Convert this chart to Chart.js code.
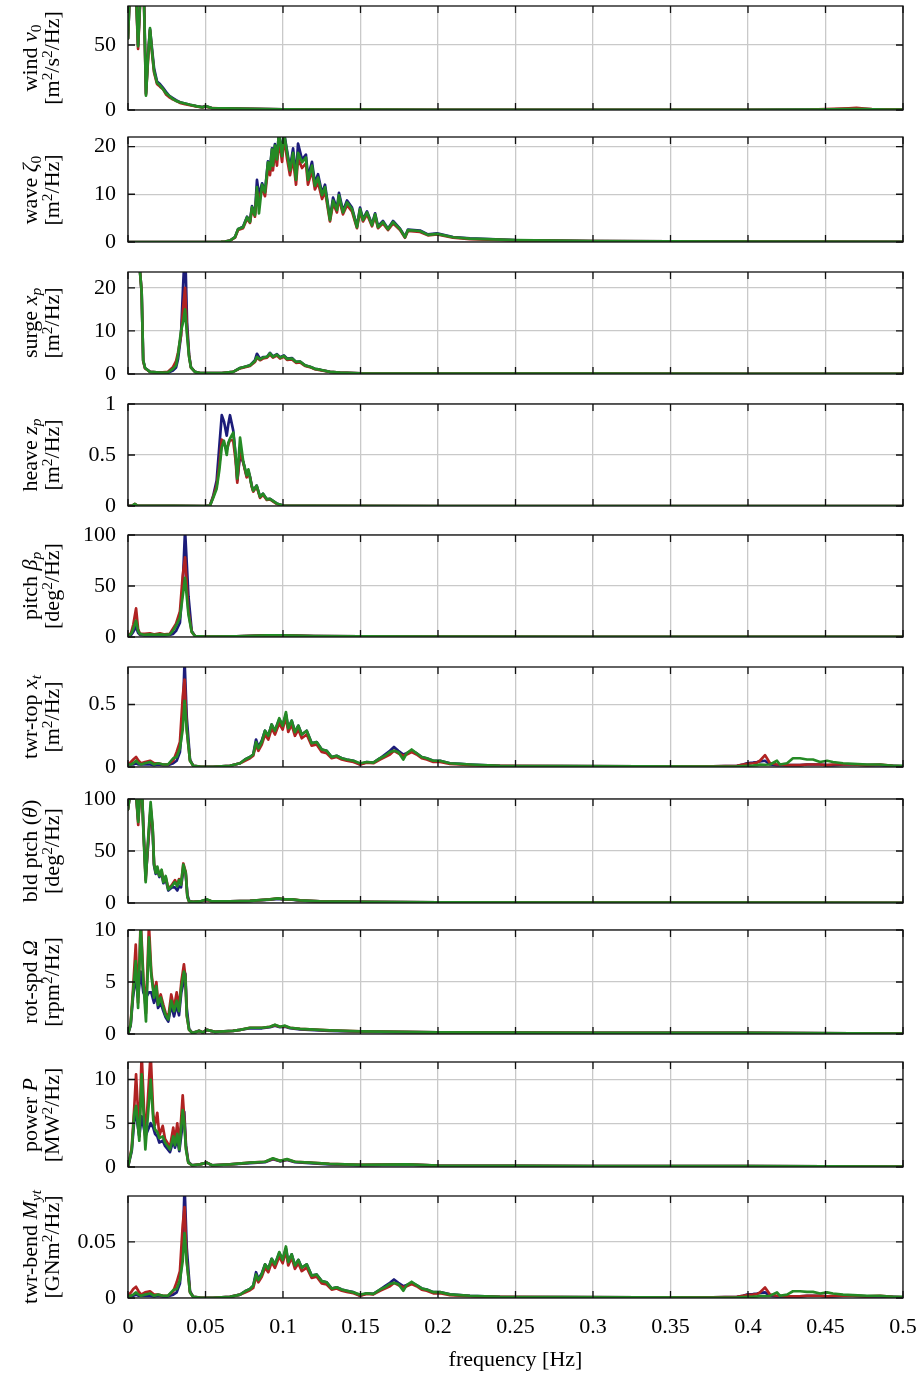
<!DOCTYPE html>
<html>
<head>
<meta charset="utf-8">
<script src="https://cdn.jsdelivr.net/npm/chart.js@4.4.0/dist/chart.umd.min.js"></script>
<style>
  body { margin: 0; background: #fff; width: 923px; height: 1374px; position: relative; overflow: hidden; }
  canvas { position: absolute; left: 0; }
  .ylab { position: absolute; width: 260px; height: 44px; font: 22px/22px 'Liberation Serif', serif; color: #000;
          text-align: center; white-space: nowrap; transform: rotate(-90deg); }
  .ylab div { height: 22px; }
  sup, sub { font-size: 70%; line-height: 0; position: relative; vertical-align: baseline; }
  sup { top: -0.45em; }
  sub { top: 0.25em; }
</style>
</head>
<body>
<script>
// shared x axis
const xTicks = [0, 0.05, 0.1, 0.15, 0.2, 0.25, 0.3, 0.35, 0.4, 0.45, 0.5];

// wind v0
const windF = [0, 0.0013, 0.0032, 0.0052, 0.0065, 0.0084, 0.0103, 0.0116, 0.0129, 0.0142, 0.0155, 0.0168, 0.0187, 0.0206, 0.0226, 0.0245, 0.0265, 0.0284, 0.031, 0.0335, 0.0368, 0.04, 0.044, 0.048, 0.05, 0.054, 0.0626, 0.0787, 0.1, 0.125, 0.15, 0.2, 0.25, 0.3, 0.35, 0.4, 0.44, 0.455, 0.465, 0.47, 0.475, 0.48, 0.49, 0.5];
const windBlue = [55, 95, 110, 92, 50, 100, 88, 13, 42, 62, 47, 32, 22, 20, 17, 14, 11, 9.5, 7.5, 6, 5, 4, 3, 2.2, 3, 1.5, 1.2, 0.8, 0.5, 0.4, 0.3, 0.2, 0.2, 0.15, 0.15, 0.2, 0.3, 0.5, 0.7, 0.8, 0.6, 0.5, 0.4, 0.3];
const windRed = [55, 95, 110, 88, 47, 98, 84, 12, 38, 61, 44, 29, 20, 18, 16, 12, 10, 8.5, 7, 5.5, 4.5, 3.8, 2.8, 2, 2.8, 1.4, 1.1, 0.8, 0.5, 0.4, 0.3, 0.2, 0.2, 0.15, 0.15, 0.2, 0.4, 0.9, 1.3, 1.6, 1.1, 0.7, 0.5, 0.3];
const windGreen = [55, 95, 110, 90, 49, 100, 85, 11, 40, 63, 45, 30, 21, 19, 16, 13, 11, 9, 7, 6, 5, 4, 3, 2, 3, 1.5, 1.2, 0.8, 0.5, 0.4, 0.3, 0.2, 0.2, 0.15, 0.15, 0.15, 0.3, 0.5, 0.6, 0.7, 0.6, 0.5, 0.4, 0.3];

// wave zeta0
const waveF = [0, 0.03, 0.06, 0.0626, 0.0658, 0.069, 0.071, 0.0742, 0.0768, 0.0787,
  0.08, 0.0819, 0.0832, 0.0845, 0.0865, 0.0884, 0.0903, 0.0916, 0.0929, 0.0935,
  0.0948, 0.0961, 0.0974, 0.0994, 0.1006, 0.1026, 0.1045, 0.1065, 0.1084, 0.1097,
  0.1123, 0.1148, 0.1161, 0.1187, 0.1206, 0.1226, 0.1252, 0.1271, 0.1303, 0.1323,
  0.1348, 0.1361, 0.1387, 0.1413, 0.1445, 0.1477, 0.1497, 0.1516, 0.1542, 0.1574,
  0.1594, 0.1613, 0.1645, 0.1677, 0.171, 0.1755, 0.1787, 0.1806, 0.1884, 0.1935,
  0.1994, 0.2097, 0.2206, 0.25, 0.3, 0.4, 0.5];
const waveBlue = [0, 0, 0.05, 0.1, 0.3, 1.0, 2.7, 3.2, 5.3, 4.4,
  7.5, 5.8, 13.0, 9.8, 12.3, 10.6, 16.9, 15.5, 19.6, 16.3,
  20.5, 17.6, 23, 18.4, 23, 19.2, 15.4, 19.6, 13.6, 20.6,
  17.2, 18.3, 13.6, 16.8, 12.3, 14.2, 10.2, 12.0, 4.9, 9.3,
  7.0, 10.3, 6.5, 8.7, 7.2, 3.3, 7.2, 4.8, 6.4, 3.7,
  6.0, 3.3, 4.4, 2.8, 4.4, 2.8, 1.1, 2.6, 2.4, 1.6,
  1.8, 1.05, 0.75, 0.4, 0.2, 0.1, 0.05];
const waveRed = [0, 0, 0.05, 0.1, 0.3, 0.9, 2.5, 2.9, 4.9, 4.0,
  6.9, 5.3, 10.5, 9.0, 11.2, 9.6, 15.5, 14.0, 18.0, 15.0,
  19.0, 16.0, 21.5, 16.8, 22, 17.5, 14.0, 17.5, 12.0, 17.5,
  15.5, 16.5, 12.0, 15.0, 11.0, 12.5, 9.0, 10.7, 4.3, 8.1,
  6.2, 9.1, 5.8, 7.7, 6.4, 2.9, 6.4, 4.3, 5.8, 3.3,
  5.4, 2.9, 3.9, 2.5, 3.9, 2.5, 0.9, 2.3, 2.1, 1.4,
  1.6, 0.9, 0.6, 0.35, 0.2, 0.1, 0.05];
const waveGreen = [0, 0, 0.05, 0.1, 0.3, 1.0, 2.7, 3.1, 5.2, 4.2,
  7.3, 5.6, 11.5, 6.0, 12, 10.4, 16.7, 15.2, 19.4, 16,
  20.2, 17.3, 23, 18, 23, 18.7, 15, 18.7, 13, 18.7,
  16.7, 17.7, 13, 16, 11.8, 13.5, 9.8, 11.5, 4.6, 8.7,
  6.7, 9.8, 6.2, 8.3, 6.9, 3.1, 6.9, 4.6, 6.2, 3.5,
  5.8, 3.1, 4.2, 2.7, 4.2, 2.7, 1.0, 2.5, 2.3, 1.5,
  1.7, 1.0, 0.7, 0.4, 0.2, 0.1, 0.05];

// surge xp
const surgeF = [0, 0.003, 0.0055, 0.0077, 0.0088, 0.0098, 0.011, 0.0142, 0.0206, 0.0258,
  0.029, 0.031, 0.0323, 0.0342, 0.0355, 0.0368, 0.0381, 0.0394, 0.0406, 0.0432,
  0.0465, 0.0606, 0.0678, 0.0723, 0.0755, 0.0787, 0.0819, 0.0832, 0.0852, 0.0871,
  0.0897, 0.0916, 0.0935, 0.0961, 0.0981, 0.1006, 0.1026, 0.1058, 0.1084, 0.111,
  0.1142, 0.1174, 0.1206, 0.1239, 0.1303, 0.1368, 0.15, 0.2, 0.3, 0.4, 0.5];
const surgeBlue = [30, 45, 40, 24, 19, 3.2, 1.4, 0.5, 0.3, 0.3,
  0.8, 1.5, 3.5, 9, 20, 30, 12, 4.5, 1.6, 0.5,
  0.2, 0.2, 0.5, 1.4, 1.7, 2.0, 3.2, 4.7, 3.5, 3.9,
  4.0, 4.9, 4.1, 4.6, 3.9, 4.3, 3.6, 3.7, 2.8, 2.9,
  2.0, 1.7, 1.2, 1.0, 0.5, 0.3, 0.15, 0.1, 0.08, 0.06, 0.05];
const surgeRed = [30, 45, 40, 24, 19, 3.0, 1.3, 0.5, 0.3, 0.5,
  1.6, 3.0, 5, 9, 15, 20, 10, 4.2, 1.5, 0.5,
  0.2, 0.2, 0.5, 1.3, 1.6, 1.9, 2.8, 3.8, 3.2, 3.6,
  3.8, 4.5, 3.8, 4.3, 3.6, 4.0, 3.3, 3.4, 2.6, 2.7,
  1.9, 1.6, 1.1, 0.9, 0.5, 0.3, 0.15, 0.1, 0.08, 0.06, 0.05];
const surgeGreen = [30, 45, 40, 24, 19, 3.2, 1.4, 0.5, 0.3, 0.4,
  1.2, 2.0, 4.5, 10, 12, 15, 9, 4, 1.5, 0.5,
  0.2, 0.2, 0.5, 1.4, 1.7, 2.0, 3.0, 4.0, 3.4, 3.8,
  4.0, 4.8, 4.0, 4.5, 3.8, 4.2, 3.5, 3.6, 2.8, 2.9,
  2.0, 1.7, 1.2, 1.0, 0.5, 0.3, 0.15, 0.1, 0.08, 0.06, 0.05];

// heave zp
const heaveF = [0, 0.003, 0.0045, 0.006, 0.03, 0.0497, 0.0529, 0.055, 0.0572, 0.0589,
  0.0605, 0.0619, 0.0637, 0.0647, 0.0658, 0.0679, 0.0694, 0.0705, 0.0723, 0.0744,
  0.0766, 0.0777, 0.0787, 0.0798, 0.0808, 0.083, 0.0852, 0.0871, 0.0895, 0.0916,
  0.0959, 0.1, 0.12, 0.2, 0.5];
const heaveBlue = [0, 0.005, 0.015, 0.003, 0.002, 0, 0.005, 0.1, 0.25, 0.58,
  0.89, 0.83, 0.69, 0.8, 0.89, 0.74, 0.5, 0.25, 0.5, 0.43,
  0.29, 0.34, 0.29, 0.2, 0.15, 0.2, 0.09, 0.12, 0.065, 0.07,
  0.025, 0.005, 0.002, 0, 0];
const heaveRed = [0, 0.005, 0.02, 0.003, 0.002, 0, 0.005, 0.09, 0.2, 0.4,
  0.65, 0.62, 0.55, 0.6, 0.65, 0.64, 0.45, 0.23, 0.55, 0.42,
  0.28, 0.33, 0.28, 0.19, 0.14, 0.19, 0.08, 0.11, 0.06, 0.065,
  0.02, 0.005, 0.002, 0, 0];
const heaveGreen = [0, 0.005, 0.02, 0.003, 0.002, 0, 0.005, 0.08, 0.17, 0.35,
  0.58, 0.64, 0.5, 0.62, 0.66, 0.72, 0.5, 0.27, 0.67, 0.43,
  0.3, 0.36, 0.28, 0.2, 0.15, 0.2, 0.09, 0.12, 0.065, 0.07,
  0.025, 0.005, 0.002, 0, 0];

// pitch beta_p
const pitchF = [0, 0.002, 0.0034, 0.0052, 0.0065, 0.0077, 0.0108, 0.0142, 0.0172, 0.0206,
  0.0237, 0.0269, 0.029, 0.031, 0.0335, 0.0353, 0.0368, 0.039, 0.0411, 0.0432,
  0.05, 0.07, 0.09, 0.1, 0.12, 0.15, 0.2, 0.3, 0.4, 0.5];
const pitchBlue = [1, 2, 5, 10, 4, 2, 1.5, 1.5, 1.5, 1.5, 1.5, 2, 3, 6, 14, 50, 105, 40, 6, 1, 0.5, 0.7, 1.5, 1.5, 1, 0.6, 0.4, 0.2, 0.2, 0.1];
const pitchRed = [1, 4, 12, 28, 8, 3, 3, 3.5, 2.5, 3.5, 2.5, 3, 8, 13, 25, 60, 78, 25, 5, 1, 0.5, 0.7, 1.5, 1.5, 1, 0.6, 0.4, 0.2, 0.2, 0.1];
const pitchGreen = [1, 3, 8, 16, 6, 3, 2, 2.5, 2, 2.5, 2, 2.5, 6, 11, 19, 40, 58, 22, 5, 1, 0.5, 0.7, 1.5, 1.5, 1, 0.6, 0.4, 0.2, 0.2, 0.1];

// tower (shared frequencies for twr-top and twr-bend)
const towerF = [0, 0.0019, 0.0034, 0.0052, 0.0068, 0.0084, 0.011, 0.0142, 0.0168, 0.0194,
  0.0226, 0.0258, 0.0292, 0.0314, 0.0335, 0.0353, 0.0365, 0.0379, 0.04, 0.0421,
  0.0465, 0.0548, 0.0658, 0.0723, 0.0755, 0.0787, 0.0808, 0.0826, 0.0841, 0.0863,
  0.0884, 0.0905, 0.0927, 0.0948, 0.0976, 0.0998, 0.1019, 0.1034, 0.1056, 0.1077,
  0.1099, 0.1121, 0.1153, 0.1185, 0.1217, 0.125, 0.1282, 0.1314, 0.1346, 0.1379,
  0.1411, 0.1454, 0.1497, 0.154, 0.1583, 0.1626, 0.1658, 0.169, 0.1716, 0.1744,
  0.1776, 0.1798, 0.183, 0.1862, 0.1895, 0.1927, 0.197, 0.2013, 0.2077, 0.2142,
  0.2206, 0.24, 0.28, 0.33, 0.3774, 0.3929, 0.3968, 0.3994, 0.4032, 0.4058,
  0.4077, 0.411, 0.4142, 0.4187, 0.4206, 0.4252, 0.429, 0.4335, 0.4381, 0.4419,
  0.4465, 0.451, 0.4548, 0.4613, 0.4677, 0.4768, 0.4852, 0.4935, 0.5];

// twr-top xt
const topBlue = [0.02, 0.02, 0.02, 0.03, 0.02, 0.02, 0.02, 0.02, 0.015, 0.02,
  0.015, 0.015, 0.03, 0.05, 0.12, 0.4, 0.85, 0.4, 0.06, 0.01,
  0.003, 0.002, 0.01, 0.03, 0.06, 0.08, 0.1, 0.22, 0.16, 0.21,
  0.29, 0.25, 0.34, 0.29, 0.38, 0.33, 0.42, 0.31, 0.37, 0.28,
  0.33, 0.26, 0.29, 0.19, 0.2, 0.14, 0.13, 0.08, 0.09, 0.07,
  0.06, 0.05, 0.02, 0.04, 0.035, 0.07, 0.1, 0.13, 0.16, 0.13,
  0.1, 0.11, 0.13, 0.11, 0.08, 0.07, 0.05, 0.05, 0.03, 0.025,
  0.02, 0.01, 0.008, 0.005, 0.005, 0.01, 0.02, 0.03, 0.035, 0.04,
  0.045, 0.05, 0.02, 0.015, 0.015, 0.015, 0.015, 0.015, 0.02, 0.02,
  0.02, 0.015, 0.015, 0.02, 0.02, 0.015, 0.015, 0.01, 0.005];
const topRed = [0.02, 0.04, 0.06, 0.08, 0.05, 0.03, 0.04, 0.05, 0.03, 0.03,
  0.02, 0.02, 0.05, 0.12, 0.2, 0.56, 0.7, 0.3, 0.05, 0.01,
  0.003, 0.002, 0.01, 0.03, 0.05, 0.07, 0.09, 0.18, 0.13, 0.18,
  0.26, 0.22, 0.31, 0.26, 0.35, 0.3, 0.4, 0.28, 0.34, 0.25,
  0.3, 0.23, 0.26, 0.17, 0.18, 0.12, 0.11, 0.07, 0.08, 0.06,
  0.05, 0.04, 0.02, 0.035, 0.03, 0.06, 0.08, 0.1, 0.13, 0.11,
  0.09, 0.1, 0.12, 0.1, 0.07, 0.06, 0.04, 0.04, 0.025, 0.02,
  0.015, 0.01, 0.008, 0.005, 0.005, 0.01, 0.02, 0.025, 0.03, 0.035,
  0.05, 0.095, 0.03, 0.02, 0.02, 0.015, 0.015, 0.015, 0.02, 0.02,
  0.02, 0.015, 0.02, 0.02, 0.02, 0.015, 0.02, 0.01, 0.005];
const topGreen = [0.02, 0.02, 0.03, 0.05, 0.03, 0.02, 0.03, 0.04, 0.02, 0.03,
  0.02, 0.02, 0.07, 0.08, 0.15, 0.3, 0.53, 0.3, 0.05, 0.01,
  0.003, 0.002, 0.01, 0.03, 0.06, 0.08, 0.1, 0.2, 0.15, 0.2,
  0.29, 0.25, 0.34, 0.29, 0.39, 0.33, 0.44, 0.31, 0.37, 0.28,
  0.33, 0.26, 0.29, 0.19, 0.2, 0.14, 0.13, 0.08, 0.09, 0.07,
  0.06, 0.05, 0.03, 0.04, 0.035, 0.07, 0.09, 0.12, 0.13, 0.12,
  0.06, 0.11, 0.14, 0.11, 0.08, 0.07, 0.05, 0.05, 0.03, 0.025,
  0.02, 0.01, 0.008, 0.005, 0.003, 0.005, 0.008, 0.01, 0.012, 0.015,
  0.02, 0.018, 0.02, 0.05, 0.02, 0.03, 0.07, 0.07, 0.06, 0.06,
  0.04, 0.05, 0.04, 0.03, 0.025, 0.02, 0.02, 0.01, 0.01];

// bld ptch theta
const bldF = [0, 0.0013, 0.0032, 0.0052, 0.0066, 0.0077, 0.009, 0.0099, 0.0114, 0.0127,
  0.0146, 0.0159, 0.0168, 0.0179, 0.0189, 0.0202, 0.0217, 0.0228, 0.0243, 0.026,
  0.0282, 0.0303, 0.0318, 0.0329, 0.0342, 0.0357, 0.0372, 0.0383, 0.0394, 0.0421,
  0.0465, 0.0508, 0.0542, 0.0658, 0.0787, 0.0916, 0.0968, 0.1013, 0.1058, 0.111,
  0.1239, 0.15, 0.2, 0.3, 0.4, 0.5];
const bldBlue = [90, 105, 115, 105, 80, 105, 110, 74, 25, 50,
  90, 70, 36, 28, 32, 25, 29, 19, 23, 12,
  15, 15, 12, 16, 15, 32, 30, 8, 2, 1,
  1.5, 3, 1.5, 1.5, 2, 3.2, 4, 3.2, 3.2, 2.3,
  1.5, 1, 0.6, 0.4, 0.3, 0.2];
const bldRed = [90, 105, 115, 105, 75, 105, 110, 72, 22, 52,
  92, 72, 38, 30, 34, 27, 31, 21, 25, 14,
  17, 22, 17, 23, 18, 38, 30, 6, 1.5, 1,
  1.5, 3, 1.5, 1.5, 2, 3.5, 4.5, 3.5, 3.5, 2.5,
  1.5, 1, 0.6, 0.4, 0.3, 0.2];
const bldGreen = [90, 105, 115, 105, 78, 105, 110, 70, 20, 55,
  97, 73, 37, 29, 35, 26, 32, 20, 26, 13,
  16, 20, 16, 22, 17.5, 37, 29, 6, 1.5, 1,
  1.5, 3.5, 1.5, 1.5, 2, 3.5, 4.5, 3.5, 3.5, 2.5,
  1.5, 1, 0.6, 0.4, 0.3, 0.2];

// rot-spd Omega
const rotF = [0, 0.0017, 0.0032, 0.005, 0.0065, 0.0082, 0.0099, 0.0116, 0.0135, 0.015,
  0.0168, 0.0183, 0.0194, 0.0211, 0.0228, 0.0243, 0.026, 0.0279, 0.0297, 0.0314,
  0.0329, 0.0344, 0.0361, 0.037, 0.0379, 0.0394, 0.0415, 0.0439, 0.0458, 0.0484,
  0.0508, 0.0561, 0.0677, 0.0723, 0.0787, 0.0865, 0.0916, 0.0948, 0.0981, 0.1013,
  0.1045, 0.111, 0.13, 0.15, 0.2, 0.3, 0.4, 0.5];
const rotBlue = [0, 0.8, 3.5, 5.5, 3.5, 6, 4, 3.5, 4, 4,
  3, 3.8, 2.5, 3, 2.2, 1.6, 1.2, 2.8, 1.7, 2.8,
  1.8, 4, 5.2, 5.8, 2.5, 0.5, 0.1, 0.2, 0.3, 0.15,
  0.4, 0.2, 0.3, 0.4, 0.55, 0.55, 0.65, 0.8, 0.65, 0.7,
  0.55, 0.45, 0.3, 0.22, 0.15, 0.1, 0.1, 0.05];
const rotRed = [0, 1.0, 4.2, 8.6, 3, 11, 5.5, 2, 10.5, 6,
  3.8, 5, 3, 3.8, 2.8, 2, 1.6, 3.8, 2.5, 4,
  2.5, 5, 6.7, 5.5, 1.8, 0.4, 0.1, 0.2, 0.3, 0.15,
  0.4, 0.2, 0.3, 0.4, 0.6, 0.6, 0.7, 0.85, 0.7, 0.75,
  0.6, 0.5, 0.35, 0.25, 0.15, 0.1, 0.1, 0.05];
const rotGreen = [0, 0.9, 3.8, 7, 2.5, 10.5, 5, 1.2, 9.3, 5.7,
  3.5, 4.6, 2.8, 3.5, 2.5, 1.8, 1.4, 3.2, 2.2, 3.2,
  2.2, 4.5, 6.0, 5.5, 1.8, 0.4, 0.1, 0.2, 0.3, 0.15,
  0.4, 0.2, 0.3, 0.4, 0.6, 0.6, 0.7, 0.9, 0.7, 0.8,
  0.6, 0.5, 0.35, 0.25, 0.15, 0.1, 0.1, 0.05];

// power P
const powF = [0, 0.0024, 0.0041, 0.0052, 0.0073, 0.0088, 0.0112, 0.0146, 0.0163, 0.0174,
  0.0189, 0.0202, 0.0224, 0.0239, 0.0271, 0.0292, 0.0303, 0.0318, 0.0331, 0.0353,
  0.0363, 0.0374, 0.0389, 0.0413, 0.0465, 0.0508, 0.0542, 0.0658, 0.0787, 0.0884,
  0.0935, 0.0981, 0.1026, 0.1077, 0.1174, 0.13, 0.15, 0.18, 0.2, 0.3, 0.4, 0.5];
const powBlue = [0, 1.8, 5.5, 6, 3.5, 5.8, 3.5, 5, 4.5, 3.8,
  3.5, 2.8, 3, 2.4, 1.7, 3, 2.2, 3.2, 1.8, 5,
  6.3, 2.5, 0.6, 0.2, 0.3, 0.5, 0.2, 0.3, 0.45, 0.55,
  0.9, 0.65, 0.8, 0.55, 0.45, 0.3, 0.22, 0.28, 0.15, 0.1, 0.1, 0.05];
const powRed = [0, 2.2, 7, 10.6, 3.5, 13, 3, 13, 6, 4.8,
  6.2, 3.6, 4.7, 3.2, 2.3, 4.5, 2.8, 5, 2.3, 8.2,
  5.5, 2.2, 0.5, 0.2, 0.3, 0.5, 0.2, 0.3, 0.5, 0.6,
  0.95, 0.7, 0.85, 0.6, 0.5, 0.35, 0.25, 0.3, 0.15, 0.1, 0.1, 0.05];
const powGreen = [0, 2, 6.2, 7, 3, 10.6, 2, 10, 5.4, 4.3,
  4, 3.3, 3.5, 2.8, 2, 3.5, 2.5, 3.8, 2, 6.5,
  5, 2, 0.5, 0.2, 0.3, 0.5, 0.2, 0.3, 0.5, 0.6,
  1.0, 0.7, 0.9, 0.6, 0.5, 0.35, 0.25, 0.3, 0.15, 0.1, 0.1, 0.05];

// twr-bend Myt
const bendBlue = [0.002, 0.002, 0.002, 0.003, 0.002, 0.002, 0.002, 0.002, 0.0015, 0.002,
  0.0015, 0.0015, 0.003, 0.005, 0.013, 0.045, 0.1, 0.045, 0.006, 0.001,
  0.0003, 0.0002, 0.001, 0.003, 0.006, 0.008, 0.011, 0.023, 0.017, 0.022,
  0.03, 0.026, 0.035, 0.03, 0.04, 0.034, 0.044, 0.032, 0.039, 0.029,
  0.034, 0.027, 0.03, 0.02, 0.021, 0.015, 0.014, 0.0085, 0.0095, 0.0075,
  0.0065, 0.0052, 0.002, 0.0042, 0.0037, 0.0075, 0.0105, 0.0135, 0.0165, 0.0135,
  0.0105, 0.0115, 0.0135, 0.0115, 0.0085, 0.0075, 0.0052, 0.0052, 0.0032, 0.0026,
  0.002, 0.001, 0.0008, 0.0005, 0.0005, 0.001, 0.002, 0.003, 0.0035, 0.004,
  0.0045, 0.005, 0.002, 0.0015, 0.0015, 0.0015, 0.0015, 0.0015, 0.002, 0.002,
  0.002, 0.0015, 0.0015, 0.002, 0.002, 0.0015, 0.0015, 0.001, 0.0005];
const bendRed = [0.002, 0.005, 0.008, 0.01, 0.006, 0.003, 0.005, 0.006, 0.003, 0.003,
  0.002, 0.002, 0.006, 0.014, 0.024, 0.065, 0.081, 0.033, 0.005, 0.001,
  0.0003, 0.0002, 0.001, 0.003, 0.005, 0.007, 0.009, 0.019, 0.014, 0.019,
  0.027, 0.023, 0.032, 0.027, 0.037, 0.031, 0.042, 0.029, 0.036, 0.026,
  0.031, 0.024, 0.027, 0.018, 0.019, 0.013, 0.012, 0.0075, 0.0085, 0.0065,
  0.0055, 0.0042, 0.002, 0.0037, 0.0032, 0.0065, 0.0085, 0.0105, 0.0135, 0.0115,
  0.0095, 0.0105, 0.0125, 0.0105, 0.0075, 0.0065, 0.0042, 0.0042, 0.0026, 0.002,
  0.0016, 0.001, 0.0008, 0.0005, 0.0005, 0.001, 0.002, 0.0025, 0.003, 0.0035,
  0.005, 0.0094, 0.003, 0.002, 0.002, 0.0015, 0.0015, 0.0015, 0.002, 0.002,
  0.002, 0.0015, 0.002, 0.002, 0.002, 0.0015, 0.002, 0.001, 0.0005];
const bendGreen = [0.002, 0.002, 0.003, 0.005, 0.003, 0.002, 0.003, 0.004, 0.002, 0.003,
  0.002, 0.002, 0.007, 0.008, 0.016, 0.033, 0.058, 0.032, 0.005, 0.001,
  0.0003, 0.0002, 0.001, 0.003, 0.006, 0.008, 0.011, 0.021, 0.016, 0.021,
  0.03, 0.026, 0.035, 0.03, 0.041, 0.034, 0.046, 0.032, 0.039, 0.029,
  0.034, 0.027, 0.03, 0.02, 0.021, 0.015, 0.014, 0.0085, 0.0095, 0.0075,
  0.0065, 0.005, 0.003, 0.0042, 0.0037, 0.0075, 0.0095, 0.0125, 0.0135, 0.0125,
  0.0065, 0.0115, 0.0145, 0.0115, 0.0085, 0.0075, 0.0052, 0.0052, 0.0032, 0.0026,
  0.002, 0.001, 0.0008, 0.0005, 0.0003, 0.0005, 0.0008, 0.001, 0.0012, 0.0015,
  0.002, 0.0018, 0.002, 0.005, 0.002, 0.003, 0.006, 0.006, 0.0055, 0.0055,
  0.004, 0.005, 0.004, 0.003, 0.0025, 0.002, 0.002, 0.001, 0.001];

const BLUE = "#1c1c7a";
const RED = "#b02222";
const GREEN = "#258a25";
const GRID = "#c9c9c9";

// panel layout: plot area top / bottom in page pixels
const panels = [
  { f: windF, b: windBlue, r: windRed, g: windGreen, yMax: 80, yTicks: [0, 50], top: 6, bottom: 110,
    label: ["wind <i>v</i><sub>0</sub>", "[m<sup>2</sup>/s<sup>2</sup>/Hz]"] },
  { f: waveF, b: waveBlue, r: waveRed, g: waveGreen, yMax: 22, yTicks: [0, 10, 20], top: 137, bottom: 242,
    label: ["wave <i>ζ</i><sub>0</sub>", "[m<sup>2</sup>/Hz]"] },
  { f: surgeF, b: surgeBlue, r: surgeRed, g: surgeGreen, yMax: 23.7, yTicks: [0, 10, 20], top: 272, bottom: 374,
    label: ["surge <i>x<sub>p</sub></i>", "[m<sup>2</sup>/Hz]"] },
  { f: heaveF, b: heaveBlue, r: heaveRed, g: heaveGreen, yMax: 1, yTicks: [0, 0.5, 1], top: 404, bottom: 506,
    label: ["heave <i>z<sub>p</sub></i>", "[m<sup>2</sup>/Hz]"] },
  { f: pitchF, b: pitchBlue, r: pitchRed, g: pitchGreen, yMax: 100, yTicks: [0, 50, 100], top: 535, bottom: 637,
    label: ["pitch <i>β<sub>p</sub></i>", "[deg<sup>2</sup>/Hz]"] },
  { f: towerF, b: topBlue, r: topRed, g: topGreen, yMax: 0.8, yTicks: [0, 0.5], top: 667, bottom: 767,
    label: ["twr-top <i>x<sub>t</sub></i>", "[m<sup>2</sup>/Hz]"] },
  { f: bldF, b: bldBlue, r: bldRed, g: bldGreen, yMax: 100, yTicks: [0, 50, 100], top: 799, bottom: 903,
    label: ["bld ptch (<i>θ</i>)", "[deg<sup>2</sup>/Hz]"] },
  { f: rotF, b: rotBlue, r: rotRed, g: rotGreen, yMax: 10, yTicks: [0, 5, 10], top: 930, bottom: 1034,
    label: ["rot-spd <i>Ω</i>", "[rpm<sup>2</sup>/Hz]"] },
  { f: powF, b: powBlue, r: powRed, g: powGreen, yMax: 12, yTicks: [0, 5, 10], top: 1062, bottom: 1167,
    label: ["power <i>P</i>", "[MW<sup>2</sup>/Hz]"] },
  { f: towerF, b: bendBlue, r: bendRed, g: bendGreen, yMax: 0.091, yTicks: [0, 0.05], top: 1196, bottom: 1298,
    label: ["twr-bend <i>M<sub>yt</sub></i>", "[GNm<sup>2</sup>/Hz]"] }
];

Chart.defaults.font.family = "'Liberation Serif', serif";
Chart.defaults.font.size = 22;
Chart.defaults.color = "#000";

// box round the plot area plus inward tick marks on all four sides
const framePlugin = {
  id: "frame",
  afterDatasetsDraw(chart) {
    const { ctx, chartArea: a, scales: { x, y } } = chart;
    const len = 7;
    ctx.save();
    ctx.strokeStyle = "#111";
    ctx.lineWidth = 1.3;
    ctx.beginPath();
    x.ticks.forEach(t => {
      const px = x.getPixelForValue(t.value);
      ctx.moveTo(px, a.top); ctx.lineTo(px, a.top + len);
      ctx.moveTo(px, a.bottom); ctx.lineTo(px, a.bottom - len);
    });
    y.ticks.forEach(t => {
      const py = y.getPixelForValue(t.value);
      ctx.moveTo(a.left, py); ctx.lineTo(a.left + len, py);
      ctx.moveTo(a.right, py); ctx.lineTo(a.right - len, py);
    });
    ctx.stroke();
    ctx.strokeRect(a.left, a.top, a.right - a.left, a.bottom - a.top);
    ctx.restore();
  }
};

function points(f, v) {
  return f.map((x, i) => ({ x: x, y: v[i] }));
}

panels.forEach(function (p, i) {
  const last = i === panels.length - 1;
  const canvasTop = p.top - 14;
  const h = last ? 1374 - canvasTop : (p.bottom - p.top) + 28;

  const canvas = document.createElement("canvas");
  canvas.width = 923;
  canvas.height = h;
  canvas.style.top = canvasTop + "px";
  canvas.style.width = "923px";
  canvas.style.height = h + "px";
  document.body.appendChild(canvas);

  // rotated two-line y label
  const lab = document.createElement("div");
  lab.className = "ylab";
  lab.innerHTML = "<div>" + p.label[0] + "</div><div>" + p.label[1] + "</div>";
  lab.style.left = (41 - 130) + "px";
  lab.style.top = ((p.top + p.bottom) / 2 - 22) + "px";
  document.body.appendChild(lab);

  new Chart(canvas, {
    type: "line",
    data: {
      datasets: [
        { label: "Case 1", data: points(p.f, p.b), borderColor: BLUE, order: 3 },
        { label: "Case 2", data: points(p.f, p.r), borderColor: RED, order: 2 },
        { label: "Case 3", data: points(p.f, p.g), borderColor: GREEN, order: 1 }
      ]
    },
    options: {
      responsive: false,
      animation: false,
      layout: { padding: { top: 14, bottom: last ? 0 : 14, left: 0, right: 20 } },
      plugins: { legend: { display: false }, tooltip: { enabled: false } },
      elements: {
        point: { radius: 0 },
        line: { borderWidth: 2.7, tension: 0, fill: false, borderJoinStyle: "round", borderCapStyle: "round" }
      },
      scales: {
        x: {
          type: "linear", min: 0, max: 0.5,
          afterBuildTicks: s => { s.ticks = xTicks.map(v => ({ value: v })); },
          afterFit: s => {
            s.height = last ? h - 14 - (p.bottom - p.top) : 0;
            s.paddingLeft = 0; s.paddingRight = 0;
          },
          grid: { color: GRID, lineWidth: 1.3, drawTicks: false },
          border: { display: false },
          ticks: { display: last, padding: 16, maxRotation: 0, callback: v => String(v) },
          title: { display: last, text: "frequency [Hz]", padding: { top: 0, bottom: 1 } }
        },
        y: {
          type: "linear", min: 0, max: p.yMax,
          afterBuildTicks: s => { s.ticks = p.yTicks.map(v => ({ value: v })); },
          afterFit: s => {
            s.width = 128;
            s.paddingTop = 0; s.paddingBottom = 0;
          },
          grid: { color: GRID, lineWidth: 1.3, drawTicks: false },
          border: { display: false },
          ticks: { padding: 12, callback: v => String(v) }
        }
      }
    },
    plugins: [framePlugin]
  });
});
</script>
</body>
</html>
